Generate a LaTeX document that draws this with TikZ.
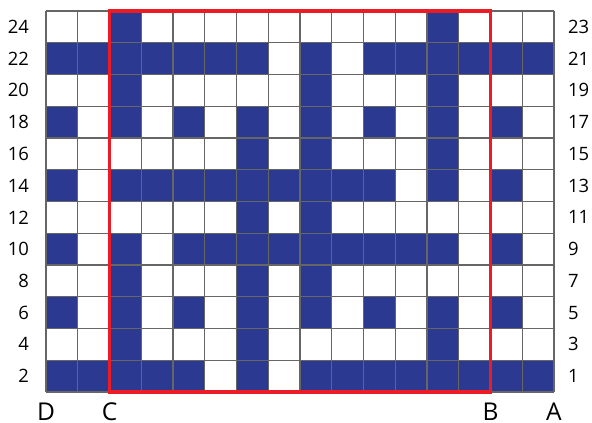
\documentclass[tikz,border=0pt]{standalone}
\usepackage{fontspec}
\setmainfont{Open Sans}
\usetikzlibrary{positioning}
\definecolor{chartblue}{HTML}{2B3990}
\definecolor{chartred}{HTML}{ED1C24}
\definecolor{chartgrid}{HTML}{666666}
\tikzset{
  stitch/.style={fill=chartblue},
  gridline/.style={draw=chartgrid, line width=1.3pt},
  repeatbox/.style={draw=chartred, line width=3pt},
  rowlabel/.style={font=\fontsize{16.5}{18}\selectfont, inner sep=0pt},
  edgelabel/.style={font=\fontsize{22}{24}\selectfont, inner sep=0pt, anchor=base}
}

\begin{document}
\begin{tikzpicture}[x=1cm, y=1cm]
\useasboundingbox (-1.449,-0.976) rectangle (17.197,12.347);
% blaue Maschen, Reihe fuer Reihe (unten = 0)
\foreach \r/\cs in {11/{2,12},
                    10/{0,1,2,3,4,5,6,8,10,11,12,13,14,15},
                    9/{2,8,12},
                    8/{0,2,4,6,8,10,12,14},
                    7/{6,8,12},
                    6/{0,2,3,4,5,6,7,8,9,10,12,14},
                    5/{6,8},
                    4/{0,2,4,5,6,7,8,9,10,11,12,14},
                    3/{2,6,8},
                    2/{0,2,4,6,8,10,12,14},
                    1/{2,6,12},
                    0/{0,1,2,3,4,6,8,9,10,11,12,13,14,15}}
  \foreach \c in \cs \fill[stitch] (\c,\r) rectangle ++(1,1);
% Raster
\draw[gridline] (0,0) grid (16,12);
% Rapport
\draw[repeatbox] (2,0) rectangle (14,12);
% Reihennummern
\foreach \r in {0,...,11} {
  \pgfmathtruncatemacro{\lft}{2*\r+2}
  \pgfmathtruncatemacro{\rgt}{2*\r+1}
  \node[rowlabel, anchor=east] (l\lft) at (-0.53,\r+0.5) {\lft};
  \node[rowlabel, anchor=west] (r\rgt) at (16.44,\r+0.5) {\rgt};
}
% Kanten
\node[edgelabel] (D) at (0,-0.89) {D};
\node[edgelabel] (C) at (2,-0.89) {C};
\node[edgelabel] (B) at (14,-0.89) {B};
\node[edgelabel] (A) at (16,-0.89) {A};
\end{tikzpicture}
\end{document}
